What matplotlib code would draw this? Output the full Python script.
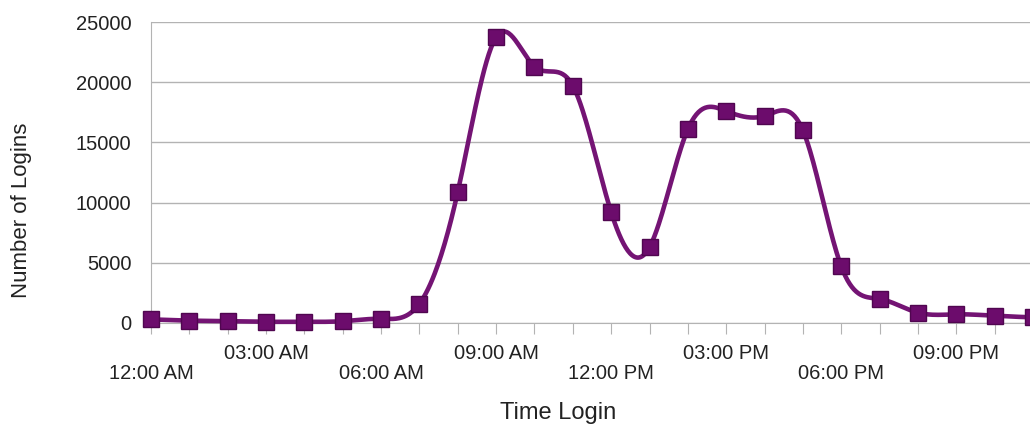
import numpy as np
import matplotlib.pyplot as plt

plt.rcParams['font.family'] = ['Liberation Sans', 'DejaVu Sans']

hours = list(range(24))
logins = [300, 200, 150, 100, 100, 150, 350, 1600, 10900, 23750,
          21300, 19700, 9200, 6300, 16100, 17600, 17200, 16000,
          4700, 2000, 860, 720, 600, 470]
tick_labels = ['12:00 AM', '03:00 AM', '06:00 AM', '09:00 AM',
               '12:00 PM', '03:00 PM', '06:00 PM', '09:00 PM']


def natural_spline(x, y, num=800):
    # natural cubic spline through the points, for the smooth line
    x = np.asarray(x, float)
    y = np.asarray(y, float)
    n = len(x)
    h = np.diff(x)
    A = np.zeros((n, n))
    b = np.zeros(n)
    A[0, 0] = 1
    A[-1, -1] = 1
    for i in range(1, n - 1):
        A[i, i - 1] = h[i - 1]
        A[i, i] = 2 * (h[i - 1] + h[i])
        A[i, i + 1] = h[i]
        b[i] = 6 * ((y[i + 1] - y[i]) / h[i] - (y[i] - y[i - 1]) / h[i - 1])
    m = np.linalg.solve(A, b)
    xs = np.linspace(x[0], x[-1], num)
    idx = np.clip(np.searchsorted(x, xs) - 1, 0, n - 2)
    t = xs - x[idx]
    hi = h[idx]
    a = y[idx]
    c1 = (y[idx + 1] - y[idx]) / hi - hi * (2 * m[idx] + m[idx + 1]) / 6
    c2 = m[idx] / 2
    c3 = (m[idx + 1] - m[idx]) / (6 * hi)
    return xs, a + c1 * t + c2 * t ** 2 + c3 * t ** 3


fig = plt.figure(figsize=(10.3, 4.28), dpi=100)
ax = fig.add_axes([151 / 1030, 105 / 428, 882 / 1030, 301 / 428])

purple = '#6c0c6c'
xs, ys = natural_spline(hours, logins)
ax.plot(xs, ys, color='#741474', lw=3.3, clip_on=False, zorder=3)
ax.plot(hours, logins, ls='none', marker='s', ms=12, color=purple,
        mec='#500650', mew=1, clip_on=False, zorder=4)

ax.set_xlim(0, 23)
ax.set_ylim(0, 25000)
ax.set_yticks(range(0, 25001, 5000))
ax.grid(axis='y', color='#b3b3b3', lw=1)
ax.set_axisbelow(True)
for s in ['top', 'right']:
    ax.spines[s].set_visible(False)
ax.spines['left'].set_color('#b3b3b3')
ax.spines['bottom'].set_color('#b3b3b3')

ax.set_xticks(hours)
labels = [''] * 24
for k, lab in enumerate(tick_labels):
    labels[k * 3] = lab if k % 2 == 1 else '\n' + lab
ax.set_xticklabels(labels, linespacing=1.1)
ax.tick_params(axis='x', length=8, color='#b3b3b3', pad=7,
               labelsize=14.5, labelcolor='#222222')
ax.tick_params(axis='y', length=0, pad=14, labelsize=14.5,
               labelcolor='#222222')

fig.text(558 / 1030, 1 - 413 / 428, 'Time Login', ha='center', va='center',
         fontsize=17, color='#222222')
fig.text(22 / 1030, 1 - 210 / 428, 'Number of Logins', ha='center',
         va='center', rotation=90, fontsize=16, color='#222222')

fig.savefig('out.png', dpi=100)
